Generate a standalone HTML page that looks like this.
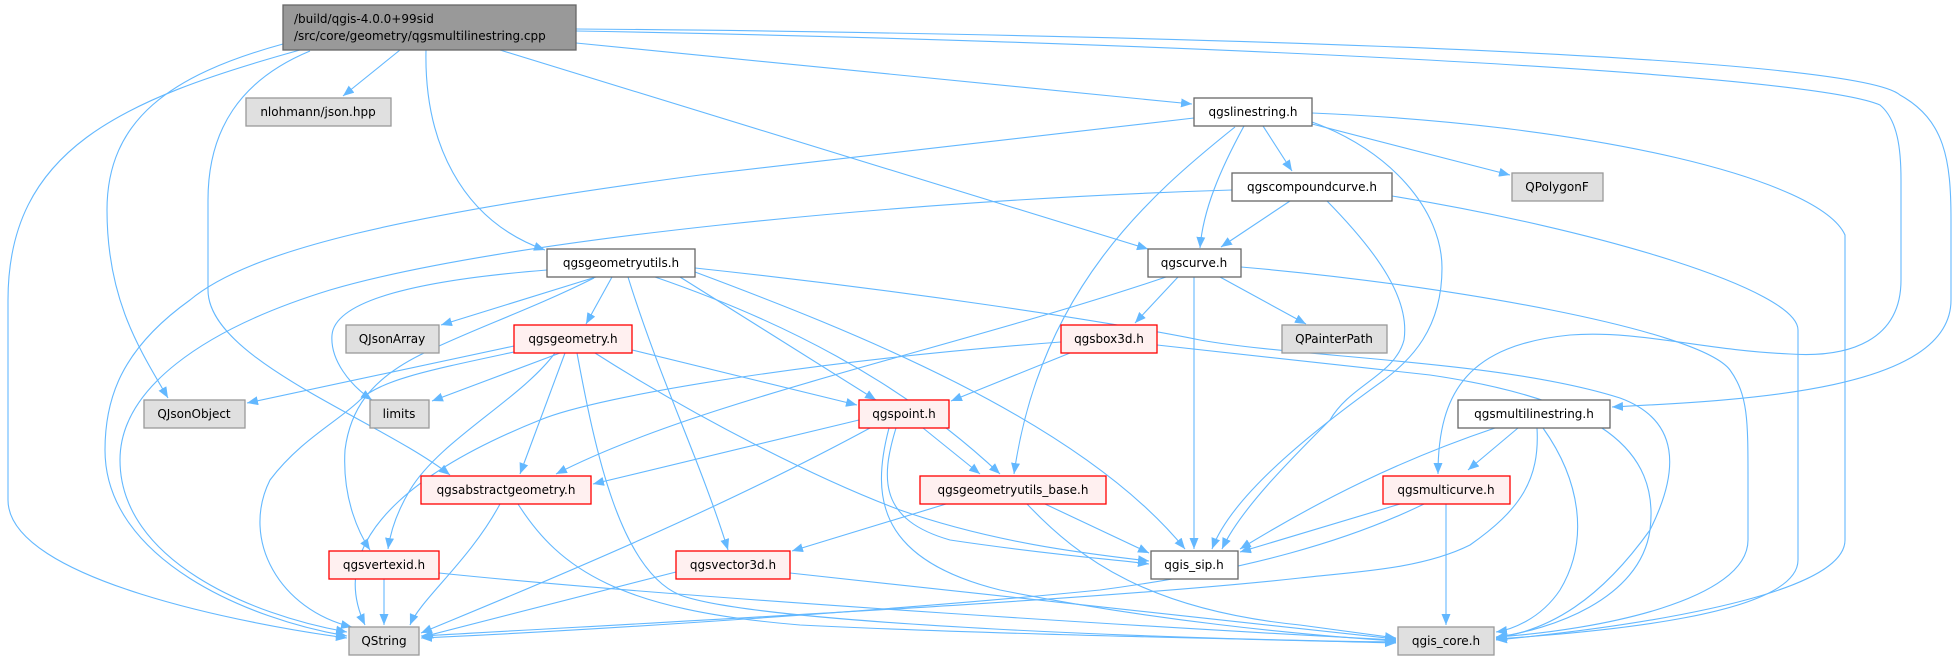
<!DOCTYPE html>
<html><head><meta charset="utf-8"><style>
html,body{margin:0;padding:0;background:#fff;}
svg{display:block;}
text{font-family:"DejaVu Sans","Liberation Sans",sans-serif;font-size:12px;fill:#000;}
.e{fill:none;stroke:#63b8ff;stroke-width:1.1;marker-end:url(#a);}
.w{fill:#fff;stroke:#666;stroke-width:1.3;}
.g{fill:#e0e0e0;stroke:#999;stroke-width:1.3;}
.r{fill:#fff0f0;stroke:#ff0000;stroke-width:1.3;}
</style></head><body>
<svg width="1957" height="661" viewBox="0 0 1957 661" xmlns="http://www.w3.org/2000/svg">
<defs><marker id="a" markerUnits="userSpaceOnUse" viewBox="-11 -4.5 11 9" markerWidth="11" markerHeight="9" refX="0" refY="0" orient="auto"><path d="M-11,-4.5 L0,0 L-11,4.5 z" fill="#63b8ff"/></marker></defs>
<g>
<path class="e" d="M400,50 L343,96"/>
<path class="e" d="M426,50 C424,140 460,220 545,250"/>
<path class="e" d="M576,43 L1192,104"/>
<path class="e" d="M500,50 L1148,249"/>
<path class="e" d="M283,44 C170,75 107,120 107,210 C107,300 140,350 168,398"/>
<path class="e" d="M300,50 C120,100 8,150 8,300 L8,500 C8,580 250,625 347,638"/>
<path class="e" d="M310,51 C240,80 208,130 208,200 L208,290 C208,360 380,420 450,475"/>
<path class="e" d="M576,29 C1000,32 1850,50 1900,95 C1945,120 1951,160 1951,220 L1951,300 C1951,390 1750,400 1612,407"/>
<path class="e" d="M576,31 C1100,40 1800,70 1880,105 C1898,120 1901,150 1901,180 L1901,280 C1901,340 1850,358 1790,354 C1700,350 1640,330 1570,335 C1470,345 1438,390 1438,474"/>
<path class="e" d="M1194,118 L700,175 C400,215 250,250 190,300 C120,350 105,400 105,450 C105,560 250,620 347,636"/>
<path class="e" d="M1263,126 L1292,171"/>
<path class="e" d="M1244,126 C1220,170 1203,210 1200,248"/>
<path class="e" d="M1312,124 L1510,175"/>
<path class="e" d="M1235,127 C1150,195 1040,290 1014,474"/>
<path class="e" d="M1312,122 C1390,150 1442,210 1442,268 C1442,330 1410,360 1384,380 C1300,440 1230,500 1212,549"/>
<path class="e" d="M1312,113 C1600,125 1820,180 1845,235 L1845,540 C1845,600 1600,630 1496,640"/>
<path class="e" d="M1232,190 C900,200 500,240 330,290 C200,330 120,390 120,460 C120,560 250,615 347,632"/>
<path class="e" d="M1290,201 L1221,247"/>
<path class="e" d="M1327,201 C1380,255 1410,300 1404,340 C1395,375 1350,385 1330,420 C1290,460 1240,510 1222,549"/>
<path class="e" d="M1392,196 C1600,230 1798,290 1798,330 L1798,560 C1798,615 1600,632 1496,639"/>
<path class="e" d="M596,277 L441,325"/>
<path class="e" d="M612,277 L586,324"/>
<path class="e" d="M547,270 C420,280 335,300 332,335 C330,360 350,385 372,400"/>
<path class="e" d="M594,278 C530,310 470,330 420,355 C370,380 350,410 345,450 C342,500 360,535 370,550"/>
<path class="e" d="M680,277 L876,400"/>
<path class="e" d="M655,277 C780,320 900,380 1000,474"/>
<path class="e" d="M628,277 C660,380 700,460 728,550"/>
<path class="e" d="M695,272 C850,330 1080,420 1185,549"/>
<path class="e" d="M695,268 C900,290 1100,320 1200,340 C1300,358 1500,360 1620,398 C1680,420 1680,470 1650,530 C1600,600 1550,630 1496,638"/>
<path class="e" d="M1166,277 C950,350 700,400 556,474"/>
<path class="e" d="M1178,277 L1135,323"/>
<path class="e" d="M1220,277 L1306,324"/>
<path class="e" d="M1194,277 L1194,549"/>
<path class="e" d="M1241,267 C1450,285 1700,330 1730,370 C1748,395 1748,420 1748,480 L1748,540 C1748,600 1600,630 1496,637"/>
<path class="e" d="M514,346 L247,403"/>
<path class="e" d="M560,353 L432,401"/>
<path class="e" d="M514,352 C430,370 380,380 360,400 C340,420 300,440 270,480 C240,540 280,610 352,627"/>
<path class="e" d="M555,353 C520,400 440,440 410,490 C395,515 390,535 388,549"/>
<path class="e" d="M565,353 L520,474"/>
<path class="e" d="M632,350 L857,405"/>
<path class="e" d="M595,353 C700,420 820,480 900,510 C1000,545 1100,555 1149,561"/>
<path class="e" d="M577,353 C595,450 620,570 680,595 C760,625 1200,640 1396,642"/>
<path class="e" d="M1061,342 C820,360 600,395 540,420 C440,460 320,530 365,625"/>
<path class="e" d="M1070,353 L951,401"/>
<path class="e" d="M1157,345 L1430,375 C1600,400 1660,450 1650,530 C1640,600 1550,630 1496,637"/>
<path class="e" d="M859,420 L593,484"/>
<path class="e" d="M870,428 C700,520 500,600 421,633"/>
<path class="e" d="M923,428 L980,474"/>
<path class="e" d="M896,428 C880,480 880,520 950,540 C1050,555 1120,560 1149,564"/>
<path class="e" d="M889,428 C870,500 880,560 1000,590 C1150,620 1300,635 1396,641"/>
<path class="e" d="M1518,428 L1468,470"/>
<path class="e" d="M1495,428 C1400,460 1320,500 1240,549"/>
<path class="e" d="M1537,428 C1540,480 1520,510 1470,545 C1420,570 1350,572 1300,578 C1100,600 700,620 421,636"/>
<path class="e" d="M1543,428 C1580,480 1590,540 1560,590 C1540,620 1510,630 1496,632"/>
<path class="e" d="M1446,504 L1446,625"/>
<path class="e" d="M1400,504 L1240,552"/>
<path class="e" d="M1424,504 C1350,540 1250,570 1100,590 C900,610 600,630 421,638"/>
<path class="e" d="M500,504 C470,560 420,600 410,625"/>
<path class="e" d="M518,504 C560,570 620,610 800,625 C1000,635 1300,640 1396,643"/>
<path class="e" d="M946,504 L792,551"/>
<path class="e" d="M1045,504 L1149,553"/>
<path class="e" d="M1027,504 C1080,560 1150,610 1300,625 C1350,632 1380,636 1396,638"/>
<path class="e" d="M384,579 L384,625"/>
<path class="e" d="M439,573 C700,600 1200,630 1396,640"/>
<path class="e" d="M676,572 L422,637"/>
<path class="e" d="M790,573 L1396,639"/>
</g>
<g text-anchor="middle">
<rect x="283" y="5" width="293" height="45" fill="#999" stroke="#666" stroke-width="1.3"/>
<text x="294" y="23" text-anchor="start">/build/qgis-4.0.0+99sid</text>
<text x="294" y="40" text-anchor="start">/src/core/geometry/qgsmultilinestring.cpp</text>
<rect class="g" x="246" y="98" width="145" height="28"/><text x="318" y="116">nlohmann/json.hpp</text>
<rect class="w" x="1194" y="98" width="118" height="28"/><text x="1253" y="116">qgslinestring.h</text>
<rect class="w" x="1232" y="173" width="160" height="28"/><text x="1312" y="191">qgscompoundcurve.h</text>
<rect class="g" x="1512" y="173" width="91" height="28"/><text x="1557" y="191">QPolygonF</text>
<rect class="w" x="547" y="249" width="148" height="28"/><text x="621" y="267">qgsgeometryutils.h</text>
<rect class="w" x="1148" y="249" width="93" height="28"/><text x="1194" y="267">qgscurve.h</text>
<rect class="g" x="346" y="325" width="93" height="28"/><text x="392" y="343">QJsonArray</text>
<rect class="r" x="514" y="325" width="118" height="28"/><text x="573" y="343">qgsgeometry.h</text>
<rect class="r" x="1061" y="325" width="96" height="28"/><text x="1109" y="343">qgsbox3d.h</text>
<rect class="g" x="1282" y="325" width="105" height="28"/><text x="1334" y="343">QPainterPath</text>
<rect class="g" x="144" y="400" width="101" height="28"/><text x="194" y="418">QJsonObject</text>
<rect class="g" x="370" y="400" width="59" height="28"/><text x="399" y="418">limits</text>
<rect class="r" x="859" y="400" width="90" height="28"/><text x="904" y="418">qgspoint.h</text>
<rect class="w" x="1458" y="400" width="152" height="28"/><text x="1534" y="418">qgsmultilinestring.h</text>
<rect class="r" x="421" y="476" width="170" height="28"/><text x="506" y="494">qgsabstractgeometry.h</text>
<rect class="r" x="920" y="476" width="186" height="28"/><text x="1013" y="494">qgsgeometryutils_base.h</text>
<rect class="r" x="1383" y="476" width="127" height="28"/><text x="1446" y="494">qgsmulticurve.h</text>
<rect class="r" x="329" y="551" width="110" height="28"/><text x="384" y="569">qgsvertexid.h</text>
<rect class="r" x="676" y="551" width="114" height="28"/><text x="733" y="569">qgsvector3d.h</text>
<rect class="w" x="1151" y="551" width="87" height="28"/><text x="1194" y="569">qgis_sip.h</text>
<rect class="g" x="349" y="627" width="70" height="28"/><text x="384" y="645">QString</text>
<rect class="g" x="1398" y="627" width="96" height="28"/><text x="1446" y="645">qgis_core.h</text>
</g>
</svg>
</body></html>
